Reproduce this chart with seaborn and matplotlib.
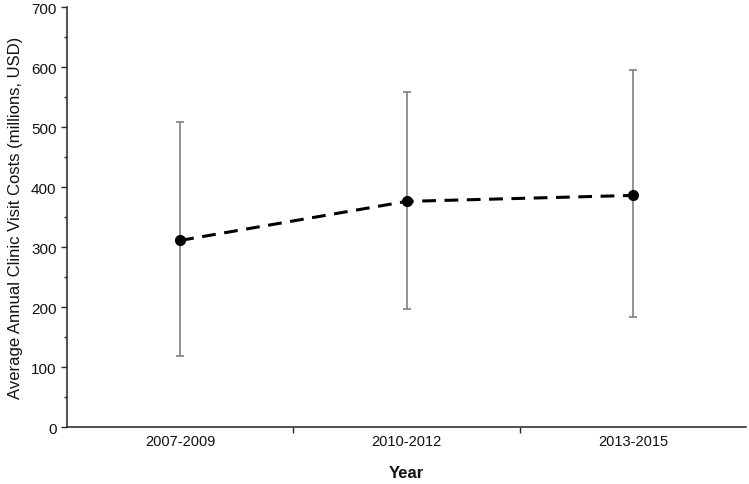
import numpy as np
import matplotlib
matplotlib.use("Agg")
import matplotlib.pyplot as plt
from matplotlib.ticker import MultipleLocator, FixedLocator
import seaborn as sns

periods = ["2007-2009", "2010-2012", "2013-2015"]
mean_cost = [311, 376, 386]
upper_cost = [508, 559, 595]
lower_cost = [118, 197, 183]

sns.set_style("ticks")
plt.rcParams['font.family'] = ['Liberation Sans', 'DejaVu Sans']

fig = plt.figure(figsize=(7.49, 4.85), dpi=100)
ax = fig.add_axes([0.0895, 0.1175, 0.9065, 0.866])

# mean line with markers
sns.pointplot(x=periods, y=mean_cost, color='black', linestyles='--', markers='o',
              errorbar=None, ax=ax)
for line in ax.lines:
    line.set_linewidth(2.2)
    line.set_markersize(6)
    line.set_dashes([4.5, 2.8])
    line.set_zorder(3)

# range bars behind the line
pos = np.arange(len(periods))
yerr = [np.array(mean_cost) - np.array(lower_cost), np.array(upper_cost) - np.array(mean_cost)]
ax.errorbar(pos, mean_cost, yerr=yerr, fmt='none', ecolor='#7f7f7f', elinewidth=1.2,
            capsize=3, capthick=1.2, zorder=1)

ax.set_xlim(-0.5, 2.5)
ax.set_ylim(0, 700)
ax.yaxis.set_major_locator(MultipleLocator(100))
ax.yaxis.set_minor_locator(MultipleLocator(50))
ax.xaxis.set_major_locator(FixedLocator(pos))
ax.xaxis.set_minor_locator(FixedLocator([0.5, 1.5]))
ax.set_xticks(pos)
ax.set_xticklabels(periods)
ax.tick_params(axis='x', which='major', length=0, pad=5, labelsize=10.5, labelcolor='#111111')
ax.tick_params(axis='x', which='minor', length=4, direction='out', width=1)
ax.tick_params(axis='y', which='major', length=4, direction='out', width=1, labelsize=11,
               labelcolor='#111111')
ax.tick_params(axis='y', which='minor', length=2.5, direction='out', width=1)

for s in ['left', 'bottom']:
    ax.spines[s].set_linewidth(1.2)
    ax.spines[s].set_color('#333333')
sns.despine(ax=ax)

ax.set_ylabel("Average Annual Clinic Visit Costs (millions, USD)", fontsize=12, labelpad=6,
              color='#111111')
ax.set_xlabel("Year", fontsize=12, fontweight='bold', labelpad=12, color='#111111')

fig.savefig("out.png", dpi=100)
